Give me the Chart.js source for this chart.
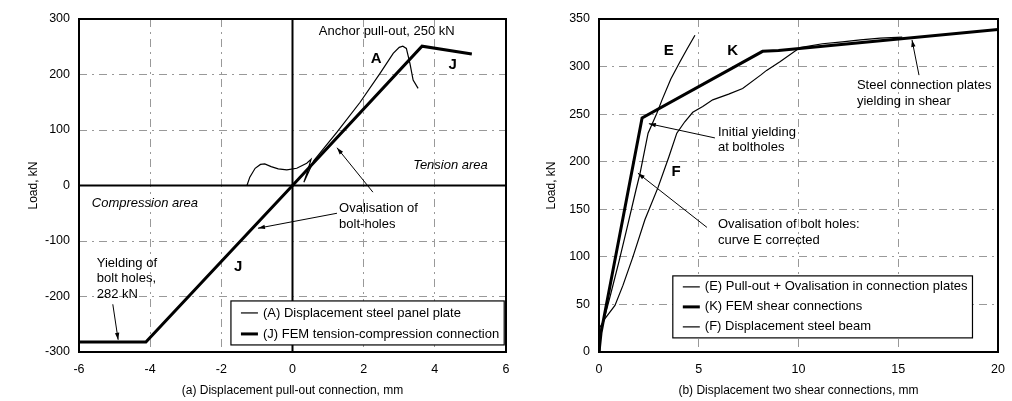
<!DOCTYPE html>
<html>
<head>
<meta charset="utf-8">
<script src="https://cdn.jsdelivr.net/npm/chart.js@4.4.1/dist/chart.umd.min.js"></script>
<style>
  html, body { margin: 0; padding: 0; background: #fff; }
  #wrap { position: relative; width: 1012px; height: 401px; }
  .box { position: absolute; top: 0; height: 401px; }
</style>
</head>
<body>
<div id="wrap">
  <div class="box" style="left:0;width:512px"><canvas id="chartA" width="512" height="401"></canvas></div>
  <div class="box" style="left:512px;width:500px"><canvas id="chartB" width="500" height="401"></canvas></div>
</div>
<script>
// ==================== データ ====================

// (a) 引抜き接合部
const aDisp = [-1.28, -1.2, -1.05, -0.9, -0.78, -0.6, -0.4, -0.16, 0.12, 0.4, 0.52, 0.42, 0.32, 0.42, 0.6, 1.25, 1.9, 2.46, 2.83, 3.0, 3.1, 3.2, 3.3, 3.39, 3.53];
const aLoad = [0, 15, 31, 38, 39, 34, 30, 28, 31, 40, 47, 25, 6, 20, 45, 96, 150, 202, 238, 249, 251, 247, 220, 190, 175];
const jDisp = [-6, -4.12, 0, 3.64, 5.04];
const jLoad = [-282, -282, 0, 251, 237];
const aTicksX = [-6, -4, -2, 0, 2, 4, 6];
const aTicksY = [-300, -200, -100, 0, 100, 200, 300];

// (b) せん断接合部 2 箇所
const eDisp = [0, 0.08, 0.6, 1.0, 1.4, 1.85, 2.06, 2.46, 2.9, 3.16, 3.6, 4.06, 4.4, 4.81];
const eLoad = [0, 20, 62, 95, 130, 170, 188, 230, 251, 265, 287, 305, 318, 333];
const kDisp = [0, 0.1, 2.16, 8.2, 9, 20];
const kLoad = [0, 20, 246, 316, 317, 339];
const fDisp = [0, 0.05, 0.3, 0.8, 1.2, 1.7, 2.3, 2.96, 3.5, 3.9, 4.3, 4.7, 5.2, 5.7, 6.5, 7.2, 8.1, 8.4, 9.07, 10.08, 11.2, 12.2, 13.1, 14.1, 15.2];
const fLoad = [0, 26, 35, 49, 70, 100, 139, 173, 205, 230, 242, 252, 258, 265, 271, 277, 291, 296, 305, 320, 324, 326, 328, 330, 331];
const bTicksX = [0, 5, 10, 15, 20];
const bTicksY = [0, 50, 100, 150, 200, 250, 300, 350];

const FONT = "'Liberation Sans', Arial, sans-serif";
Chart.defaults.font.family = FONT;
Chart.defaults.font.size = 12;
Chart.defaults.color = '#000';

const toPoints = (xs, ys) => xs.map((x, i) => ({ x, y: ys[i] }));

// 注記・矢印・凡例・枠を描くプラグイン
const notesPlugin = {
  id: 'notes',
  beforeDatasetsDraw(chart, args, opts) {
    if (!opts.zeroLines) return;
    const { ctx, chartArea: area, scales: { x, y } } = chart;
    ctx.save();
    ctx.strokeStyle = '#000';
    ctx.lineWidth = 2;
    ctx.beginPath();
    const x0 = x.getPixelForValue(0);
    const y0 = y.getPixelForValue(0);
    ctx.moveTo(x0, area.top); ctx.lineTo(x0, area.bottom);
    ctx.moveTo(area.left, y0); ctx.lineTo(area.right, y0);
    ctx.stroke();
    ctx.restore();
  },
  afterDatasetsDraw(chart, args, opts) {
    const { ctx, chartArea: area, scales: { x, y } } = chart;
    ctx.save();

    // 枠
    ctx.strokeStyle = '#000';
    ctx.lineWidth = 2;
    ctx.strokeRect(area.left, area.top, area.width, area.height);

    // テキスト
    ctx.fillStyle = '#000';
    ctx.textBaseline = 'middle';
    (opts.texts || []).forEach(t => {
      const size = t.size || 13;
      ctx.font = `${t.italic ? 'italic ' : ''}${t.bold ? 'bold ' : ''}${size}px ${FONT}`;
      ctx.textAlign = t.align || 'left';
      const lines = Array.isArray(t.text) ? t.text : [t.text];
      const px = x.getPixelForValue(t.x);
      const py = y.getPixelForValue(t.y);
      lines.forEach((line, i) => ctx.fillText(line, px, py + i * 15.5));
    });

    // 矢印
    ctx.lineWidth = 1;
    (opts.arrows || []).forEach(a => {
      const x1 = x.getPixelForValue(a.from[0]), y1 = y.getPixelForValue(a.from[1]);
      const x2 = x.getPixelForValue(a.to[0]), y2 = y.getPixelForValue(a.to[1]);
      const ang = Math.atan2(y2 - y1, x2 - x1);
      ctx.beginPath();
      ctx.moveTo(x1, y1); ctx.lineTo(x2, y2);
      ctx.stroke();
      ctx.beginPath();
      ctx.moveTo(x2, y2);
      ctx.lineTo(x2 - 7 * Math.cos(ang) + 2.2 * Math.sin(ang), y2 - 7 * Math.sin(ang) - 2.2 * Math.cos(ang));
      ctx.lineTo(x2 - 7 * Math.cos(ang) - 2.2 * Math.sin(ang), y2 - 7 * Math.sin(ang) + 2.2 * Math.cos(ang));
      ctx.closePath();
      ctx.fill();
    });

    // 凡例
    const lg = opts.legend;
    if (lg) {
      ctx.font = `13px ${FONT}`;
      ctx.textAlign = 'left';
      const sets = chart.data.datasets;
      const maxW = Math.max(...sets.map(d => ctx.measureText(d.label).width));
      const bx = x.getPixelForValue(lg.x);
      const by = y.getPixelForValue(lg.y);
      const bw = 32 + maxW + 5;
      const bh = sets.length * lg.rowH + 2;
      ctx.fillStyle = '#fff';
      ctx.fillRect(bx, by, bw, bh);
      ctx.strokeStyle = '#000';
      ctx.lineWidth = 1.2;
      ctx.strokeRect(bx, by, bw, bh);
      sets.forEach((d, i) => {
        const ry = by + lg.first + i * lg.rowH;
        ctx.lineWidth = d.borderWidth;
        ctx.beginPath();
        ctx.moveTo(bx + 10, ry); ctx.lineTo(bx + 27, ry);
        ctx.stroke();
        ctx.fillStyle = '#000';
        ctx.fillText(d.label, bx + 32, ry);
      });
    }
    ctx.restore();
  }
};

function makeScales(xMin, xMax, xTicks, yMin, yMax, yTicks, yWidth, xTitle, yTitlePad) {
  const grid = {
    color: '#999',
    lineWidth: 1,
    drawTicks: false
  };
  return {
    x: {
      type: 'linear',
      min: xMin, max: xMax,
      afterBuildTicks: s => { s.ticks = xTicks.map(v => ({ value: v })); },
      afterFit: s => { s.height = 49; s.paddingLeft = 0; s.paddingRight = 0; },
      grid,
      border: { display: false, dash: [8, 5, 2, 5] },
      ticks: { padding: 10, font: { size: 12.5 } },
      title: { display: true, text: xTitle, font: { size: 12 }, padding: { top: 0, bottom: 3 } }
    },
    y: {
      type: 'linear',
      min: yMin, max: yMax,
      afterBuildTicks: s => { s.ticks = yTicks.map(v => ({ value: v })); },
      afterFit: s => { s.width = yWidth; s.paddingTop = 0; s.paddingBottom = 0; },
      grid,
      border: { display: false, dash: [8, 5, 2, 5] },
      ticks: { padding: 9, font: { size: 12.5 } },
      title: { display: true, text: 'Load, kN', font: { size: 12 }, padding: { top: yTitlePad, bottom: 0 } }
    }
  };
}

const lineStyle = (label, xs, ys, width) => ({
  label,
  data: toPoints(xs, ys),
  showLine: true,
  borderColor: '#000',
  backgroundColor: '#000',
  borderWidth: width,
  pointRadius: 0,
  tension: 0
});

// (a) グラフ
new Chart(document.getElementById('chartA'), {
  type: 'scatter',
  data: {
    datasets: [
      lineStyle('(A) Displacement steel panel plate', aDisp, aLoad, 1.2),
      lineStyle('(J) FEM tension-compression connection', jDisp, jLoad, 3)
    ]
  },
  options: {
    responsive: false,
    animation: false,
    layout: { padding: { top: 19, right: 6, bottom: 0, left: 0 } },
    plugins: {
      legend: { display: false },
      tooltip: { enabled: false },
      notes: {
        zeroLines: true,
        texts: [
          { text: 'Anchor pull-out, 250 kN', x: 0.74, y: 278 },
          { text: 'A', x: 2.35, y: 228, bold: true, size: 15, align: 'center' },
          { text: 'J', x: 4.5, y: 217, bold: true, size: 15, align: 'center' },
          { text: 'J', x: -1.53, y: -147, bold: true, size: 15, align: 'center' },
          { text: 'Tension area', x: 3.39, y: 37, italic: true },
          { text: 'Compression area', x: -5.64, y: -32, italic: true },
          { text: ['Ovalisation of', 'bolt-holes'], x: 1.31, y: -42 },
          { text: ['Yielding of', 'bolt holes,', '282 kN'], x: -5.5, y: -140 }
        ],
        arrows: [
          { from: [1.25, -50], to: [-0.97, -77] },
          { from: [2.26, -12], to: [1.25, 68] },
          { from: [-5.05, -214], to: [-4.9, -278] }
        ],
        legend: { x: -1.73, y: -208, rowH: 21, first: 12 }
      }
    },
    scales: makeScales(-6, 6, aTicksX, -300, 300, aTicksY, 79,
      '(a) Displacement pull-out connection, mm', 26)
  },
  plugins: [notesPlugin]
});

// (b) グラフ
new Chart(document.getElementById('chartB'), {
  type: 'scatter',
  data: {
    datasets: [
      lineStyle('(E) Pull-out + Ovalisation in connection plates', eDisp, eLoad, 1.2),
      lineStyle('(K) FEM shear connections', kDisp, kLoad, 3),
      lineStyle('(F) Displacement steel beam', fDisp, fLoad, 1.2)
    ]
  },
  options: {
    responsive: false,
    animation: false,
    layout: { padding: { top: 19, right: 14, bottom: 0, left: 0 } },
    plugins: {
      legend: { display: false },
      tooltip: { enabled: false },
      notes: {
        texts: [
          { text: 'E', x: 3.5, y: 317, bold: true, size: 15, align: 'center' },
          { text: 'K', x: 6.7, y: 317, bold: true, size: 15, align: 'center' },
          { text: 'F', x: 3.86, y: 189, bold: true, size: 15, align: 'center' },
          { text: ['Initial yielding', 'at boltholes'], x: 5.96, y: 231 },
          { text: ['Ovalisation of bolt holes:', 'curve E corrected'], x: 5.96, y: 134 },
          { text: ['Steel connection plates', 'yielding in shear'], x: 12.93, y: 280 }
        ],
        arrows: [
          { from: [5.81, 225], to: [2.5, 240] },
          { from: [5.41, 131], to: [1.95, 188] },
          { from: [16.04, 291], to: [15.69, 328] }
        ],
        legend: { x: 3.7, y: 80, rowH: 20, first: 11 }
      }
    },
    scales: makeScales(0, 20, bTicksX, 0, 350, bTicksY, 87,
      '(b) Displacement two shear connections, mm', 32)
  },
  plugins: [notesPlugin]
});
</script>
</body>
</html>
